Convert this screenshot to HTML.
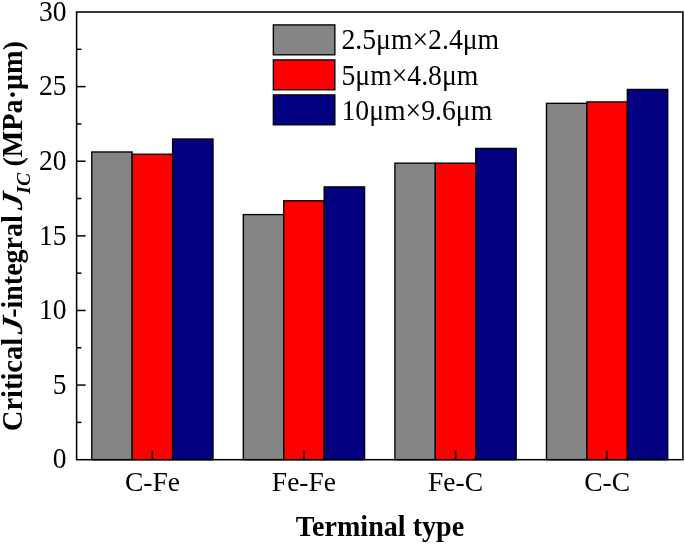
<!DOCTYPE html>
<html><head><meta charset="utf-8"><title>chart</title>
<style>
html,body{margin:0;padding:0;background:#fff;}
svg{display:block;will-change:transform;}
text{font-family:"Liberation Serif",serif;fill:#000;}
</style></head><body>
<svg width="685" height="544" viewBox="0 0 685 544">
<rect x="0" y="0" width="685" height="544" fill="#fff"/>
<rect x="91.76" y="151.98" width="40.42" height="307.72" fill="#858585" stroke="#000" stroke-width="1.35"/>
<rect x="132.18" y="154.22" width="40.42" height="305.48" fill="#ff0000" stroke="#000" stroke-width="1.35"/>
<rect x="172.60" y="139.00" width="40.42" height="320.70" fill="#000080" stroke="#000" stroke-width="1.35"/>
<rect x="243.33" y="214.58" width="40.42" height="245.12" fill="#858585" stroke="#000" stroke-width="1.35"/>
<rect x="283.75" y="200.78" width="40.42" height="258.92" fill="#ff0000" stroke="#000" stroke-width="1.35"/>
<rect x="324.17" y="186.90" width="40.42" height="272.80" fill="#000080" stroke="#000" stroke-width="1.35"/>
<rect x="394.91" y="163.17" width="40.42" height="296.53" fill="#858585" stroke="#000" stroke-width="1.35"/>
<rect x="435.33" y="163.17" width="40.42" height="296.53" fill="#ff0000" stroke="#000" stroke-width="1.35"/>
<rect x="475.75" y="148.40" width="40.42" height="311.30" fill="#000080" stroke="#000" stroke-width="1.35"/>
<rect x="546.48" y="103.33" width="40.42" height="356.37" fill="#858585" stroke="#000" stroke-width="1.35"/>
<rect x="586.90" y="101.91" width="40.42" height="357.79" fill="#ff0000" stroke="#000" stroke-width="1.35"/>
<rect x="627.32" y="89.45" width="40.42" height="370.25" fill="#000080" stroke="#000" stroke-width="1.35"/>
<line x1="76.60" y1="422.39" x2="81.40" y2="422.39" stroke="#000" stroke-width="1.5"/>
<line x1="76.60" y1="385.08" x2="85.60" y2="385.08" stroke="#000" stroke-width="1.5"/>
<line x1="76.60" y1="347.77" x2="81.40" y2="347.77" stroke="#000" stroke-width="1.5"/>
<line x1="76.60" y1="310.47" x2="85.60" y2="310.47" stroke="#000" stroke-width="1.5"/>
<line x1="76.60" y1="273.16" x2="81.40" y2="273.16" stroke="#000" stroke-width="1.5"/>
<line x1="76.60" y1="235.85" x2="85.60" y2="235.85" stroke="#000" stroke-width="1.5"/>
<line x1="76.60" y1="198.54" x2="81.40" y2="198.54" stroke="#000" stroke-width="1.5"/>
<line x1="76.60" y1="161.23" x2="85.60" y2="161.23" stroke="#000" stroke-width="1.5"/>
<line x1="76.60" y1="123.92" x2="81.40" y2="123.92" stroke="#000" stroke-width="1.5"/>
<line x1="76.60" y1="86.62" x2="85.60" y2="86.62" stroke="#000" stroke-width="1.5"/>
<line x1="76.60" y1="49.31" x2="81.40" y2="49.31" stroke="#000" stroke-width="1.5"/>
<line x1="152.39" y1="459.70" x2="152.39" y2="450.70" stroke="#000" stroke-width="1.5"/>
<line x1="303.96" y1="459.70" x2="303.96" y2="450.70" stroke="#000" stroke-width="1.5"/>
<line x1="455.54" y1="459.70" x2="455.54" y2="450.70" stroke="#000" stroke-width="1.5"/>
<line x1="607.11" y1="459.70" x2="607.11" y2="450.70" stroke="#000" stroke-width="1.5"/>
<rect x="76.60" y="12.00" width="606.30" height="447.70" fill="none" stroke="#000" stroke-width="1.55"/>
<text transform="translate(66.6,468.40) scale(1,1.035)" font-size="27.5" text-anchor="end">0</text>
<text transform="translate(66.6,393.78) scale(1,1.035)" font-size="27.5" text-anchor="end">5</text>
<text transform="translate(66.6,319.17) scale(1,1.035)" font-size="27.5" text-anchor="end">10</text>
<text transform="translate(66.6,244.55) scale(1,1.035)" font-size="27.5" text-anchor="end">15</text>
<text transform="translate(66.6,169.93) scale(1,1.035)" font-size="27.5" text-anchor="end">20</text>
<text transform="translate(66.6,95.32) scale(1,1.035)" font-size="27.5" text-anchor="end">25</text>
<text transform="translate(66.6,20.70) scale(1,1.035)" font-size="27.5" text-anchor="end">30</text>
<text x="152.39" y="490.8" font-size="27.5" text-anchor="middle">C-Fe</text>
<text x="303.96" y="490.8" font-size="27.5" text-anchor="middle">Fe-Fe</text>
<text x="455.54" y="490.8" font-size="27.5" text-anchor="middle">Fe-C</text>
<text x="607.11" y="490.8" font-size="27.5" text-anchor="middle">C-C</text>
<text transform="translate(380.0,536.2) scale(1,1.025)" font-size="28.1" font-weight="bold" text-anchor="middle">Terminal type</text>
<g transform="translate(22.1,0) rotate(-90)" font-weight="bold" font-size="28">
<text transform="translate(-431.20,0) scale(1.018,1.047)" x="0" y="0">Critical</text>
<text transform="scale(1,0.888) skewX(-8)" x="-334.64" y="0" font-size="33" font-style="italic">J</text>
<text transform="scale(1,1.047)" x="-317.84" y="0">-integral</text>
<text transform="scale(1,0.888) skewX(-8)" x="-210.50" y="0" font-size="33" font-style="italic">J</text>
<text x="-193.7" y="8.2" font-size="19.5" font-style="italic">IC</text>
<text x="-166.4" y="0">(</text>
<text transform="scale(1,1.047)" x="-157.3" y="0" font-size="28.2">MPa·μm</text>
<text x="-50.2" y="0">)</text>
</g>
<rect x="273.35" y="24.90" width="61.5" height="29.9" fill="#858585" stroke="#000" stroke-width="1.35"/>
<text transform="translate(341.5,49.40) scale(1,1.03)" font-size="27.7">2.5μm×2.4μm</text>
<rect x="273.35" y="59.90" width="61.5" height="29.9" fill="#ff0000" stroke="#000" stroke-width="1.35"/>
<text transform="translate(341.5,84.65) scale(1,1.03)" font-size="27.7">5μm×4.8μm</text>
<rect x="273.35" y="94.90" width="61.5" height="29.9" fill="#000080" stroke="#000" stroke-width="1.35"/>
<text transform="translate(341.5,119.90) scale(1,1.03)" font-size="27.7">10μm×9.6μm</text>
</svg></body></html>
